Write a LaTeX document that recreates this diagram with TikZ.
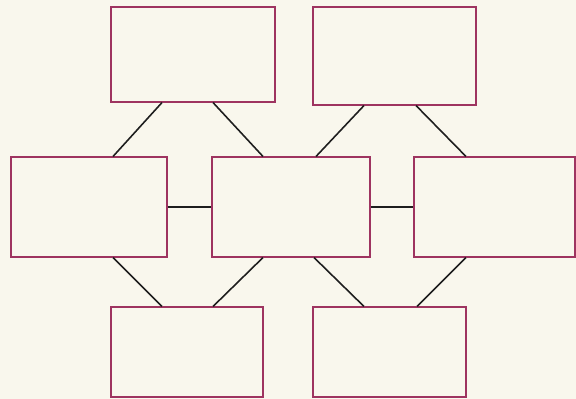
\documentclass[tikz,border=0pt]{standalone}
\usepackage{tikz}
\usepackage{xcolor}
\definecolor{paper}{RGB}{249,247,237}
\definecolor{frame}{RGB}{158,52,96}
\definecolor{link}{RGB}{30,30,30}
\tikzset{panel/.style={draw=frame,line width=0.6pt,fill=paper,inner sep=0pt},
link/.style={draw=link,line width=0.9pt}}
\begin{document}
\begin{tikzpicture}[x=0.02cm,y=-0.02cm]
\fill[paper] (0,0) rectangle (576,399);
\node[panel,minimum width=3.28cm,minimum height=1.9cm] (tl) at (193,54.5) {};
\node[panel,minimum width=3.26cm,minimum height=1.96cm] (tr) at (394.5,56) {};
\node[panel,minimum width=3.12cm,minimum height=2cm] (ml) at (89,207) {};
\node[panel,minimum width=3.16cm,minimum height=2cm] (mc) at (291,207) {};
\node[panel,minimum width=3.22cm,minimum height=2cm] (mr) at (494.5,207) {};
\node[panel,minimum width=3.04cm,minimum height=1.8cm] (bl) at (187,352) {};
\node[panel,minimum width=3.06cm,minimum height=1.8cm] (br) at (389.5,352) {};
\draw[link] ([xshift=-0.62cm]tl.south) -- ([xshift=0.48cm]ml.north);
\draw[link] ([xshift=0.4cm]tl.south) -- ([xshift=-0.56cm]mc.north);
\draw[link] ([xshift=-0.61cm]tr.south) -- ([xshift=0.5cm]mc.north);
\draw[link] ([xshift=0.43cm]tr.south) -- ([xshift=-0.57cm]mr.north);
\draw[link] (ml.east) -- (mc.west);
\draw[link] (mc.east) -- (mr.west);
\draw[link] ([xshift=0.48cm]ml.south) -- ([xshift=-0.5cm]bl.north);
\draw[link] ([xshift=-0.56cm]mc.south) -- ([xshift=0.52cm]bl.north);
\draw[link] ([xshift=0.46cm]mc.south) -- ([xshift=-0.51cm]br.north);
\draw[link] ([xshift=-0.57cm]mr.south) -- ([xshift=0.55cm]br.north);
\end{tikzpicture}
\end{document}
